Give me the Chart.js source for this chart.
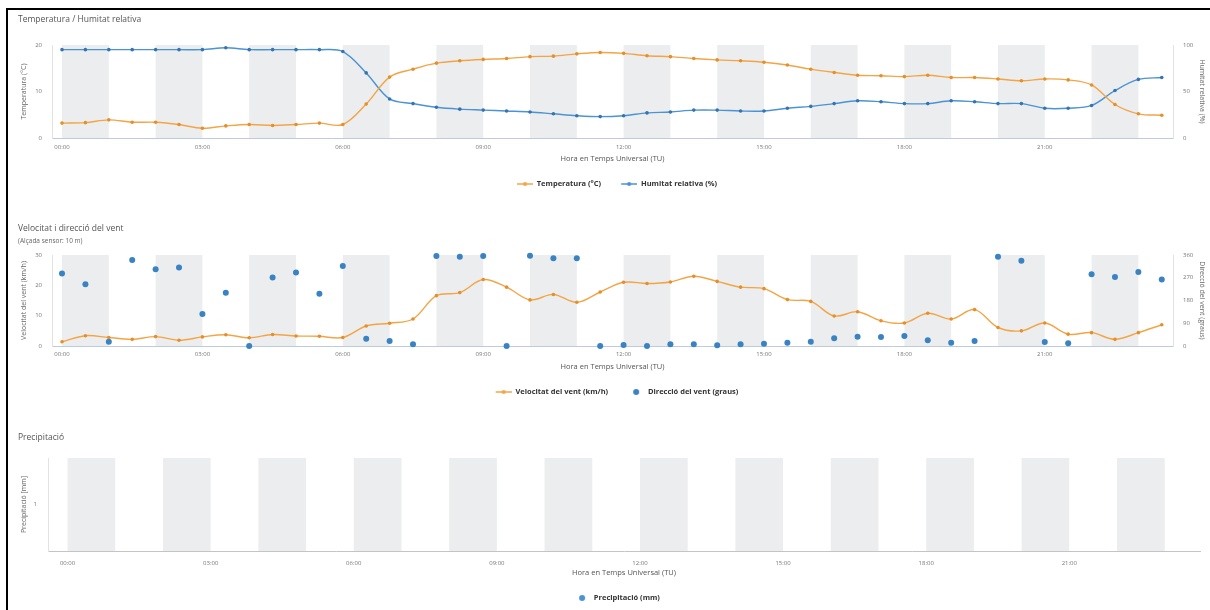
<!DOCTYPE html>
<html lang="ca">
<head>
<meta charset="utf-8">
<title>Dades meteorològiques</title>
<script src="https://cdn.jsdelivr.net/npm/chart.js@4.4.1/dist/chart.umd.min.js"></script>
<style>
  html, body { margin: 0; padding: 0; background: #fff; }
  body { position: relative; width: 1210px; height: 610px; overflow: hidden; font-family: "Open Sans", "Liberation Sans", sans-serif; }
  .frame { position: absolute; left: 6px; top: 8px; width: 1210px; height: 610px; border-top: 2px solid #000; border-left: 2px solid #000; }
  canvas { position: absolute; left: 0; }
  .title { position: absolute; left: 18px; font-size: 8.5px; color: #555; white-space: nowrap; }
  .subtitle { position: absolute; left: 18px; font-size: 6.5px; color: #666; white-space: nowrap; }
</style>
</head>
<body>
<div class="frame"></div>
<canvas id="tempChart" width="1210" height="200" style="top:0"></canvas>
<canvas id="windChart" width="1210" height="210" style="top:200px"></canvas>
<canvas id="rainChart" width="1210" height="202" style="top:410px"></canvas>
<div class="title" style="top:13px">Temperatura / Humitat relativa</div>
<div class="title" style="top:222px">Velocitat i direcció del vent</div>
<div class="subtitle" style="top:236px">(Alçada sensor: 10 m)</div>
<div class="title" style="top:431px">Precipitació</div>

<script>
/* ---------- half-hourly readings (hours UTC) ---------- */
const hours = [0, 0.5, 1, 1.5, 2, 2.5, 3, 3.5, 4, 4.5, 5, 5.5, 6, 6.5, 7, 7.5,
  8, 8.5, 9, 9.5, 10, 10.5, 11, 11.5, 12, 12.5, 13, 13.5, 14, 14.5, 15, 15.5,
  16, 16.5, 17, 17.5, 18, 18.5, 19, 19.5, 20, 20.5, 21, 21.5, 22, 22.5, 23, 23.5];

const temperature = [3.2, 3.3, 3.9, 3.4, 3.4, 2.9, 2.1, 2.6, 2.9, 2.7, 2.9, 3.2, 2.9,
  7.3, 13.1, 14.8, 16.1, 16.6, 16.9, 17.1, 17.5, 17.6, 18.1, 18.4, 18.2, 17.7, 17.5,
  17.1, 16.8, 16.6, 16.3, 15.7, 14.8, 14.1, 13.5, 13.4, 13.2, 13.5, 13.0, 13.0, 12.7,
  12.3, 12.7, 12.5, 11.4, 7.2, 5.2, 4.9];

const humidity = [95, 95, 95, 95, 95, 95, 95, 97, 95, 95, 95, 95, 93,
  70, 42, 37, 33, 31, 30, 29, 28, 26, 24, 23, 24, 27, 28, 30, 30, 29, 29, 32,
  34, 37, 40, 39, 37, 37, 40, 39, 37, 37, 32, 32, 35, 51, 63, 65];

const windSpeed = [1.4, 3.4, 2.8, 2.2, 3.1, 1.9, 3.0, 3.7, 2.7, 3.8, 3.3, 3.2, 2.8,
  6.6, 7.5, 8.9, 16.6, 17.6, 21.9, 19.4, 15.2, 17.0, 14.4, 17.8, 21.0, 20.6, 21.1,
  23.0, 21.3, 19.4, 18.9, 15.3, 14.7, 9.9, 11.3, 8.3, 7.6, 10.8, 8.9, 12.0, 6.1,
  5.0, 7.6, 3.9, 4.4, 2.2, 4.4, 7.0];

const windDirection = [287, 244, 17, 340, 304, 311, 127, 211, 0, 271, 291, 207, 316,
  29, 20, 7, 356, 353, 356, 0, 357, 347, 347, 0, 4, 0, 7, 7, 3, 7, 9, 13,
  17, 31, 37, 36, 40, 23, 13, 20, 353, 337, 16, 11, 284, 273, 293, 263];

const precipitation = [0, 0, 0, 0, 0, 0, 0, 0, 0, 0, 0, 0, 0, 0, 0, 0,
  0, 0, 0, 0, 0, 0, 0, 0, 0, 0, 0, 0, 0, 0, 0, 0,
  0, 0, 0, 0, 0, 0, 0, 0, 0, 0, 0, 0, 0, 0, 0, 0];

/* axis ticks and shaded hours */
const tickHours = [0, 3, 6, 9, 12, 15, 18, 21];
const tickLabels = ['00:00', '03:00', '06:00', '09:00', '12:00', '15:00', '18:00', '21:00'];
const bandStarts = [0, 2, 4, 6, 8, 10, 12, 14, 16, 18, 20, 22];

const tempTicks = [0, 10, 20];
const humidityTicks = [0, 50, 100];
const speedTicks = [0, 10, 20, 30];
const directionTicks = [0, 90, 180, 270, 360];
const rainTicks = [1];

/* ---------- styling ---------- */
const ORANGE = '#f3a546';
const ORANGE_DARK = '#e58f2a';
const BLUE = '#4a93d4';
const BLUE_DARK = '#3574b0';
const BAND = '#ecedee';
const AXIS_LINE = '#bccbdf';
const X_TITLE = 'Hora en Temps Universal (TU)';

Chart.defaults.font.family = '"Open Sans", "Liberation Sans", sans-serif';
Chart.defaults.animation = false;

function points(values) {
    return hours.map((h, i) => ({x: h, y: values[i]}));
}

// small canvas used as legend marker: line with dot, or dot only
function legendSymbol(color, withLine) {
    const c = document.createElement('canvas');
    c.width = 26;
    c.height = 8;
    const g = c.getContext('2d');
    g.fillStyle = color;
    g.strokeStyle = color;
    if (withLine) {
        g.lineWidth = 1.5;
        g.beginPath();
        g.moveTo(10, 4);
        g.lineTo(26, 4);
        g.stroke();
    }
    g.beginPath();
    g.arc(18, 4, withLine ? 2 : 3, 0, Math.PI * 2);
    g.fill();
    return c;
}

// grey background columns for alternating hours
const hourBands = {
    id: 'hourBands',
    beforeDraw(chart) {
        const {ctx, chartArea: {top, bottom}, scales: {x}} = chart;
        ctx.save();
        ctx.fillStyle = BAND;
        bandStarts.forEach(h => {
            const x0 = x.getPixelForValue(h);
            const x1 = x.getPixelForValue(h + 1);
            ctx.fillRect(x0, top, x1 - x0, bottom - top);
        });
        ctx.restore();
    }
};

function hourAxis(min, max, height, tickPad, titlePadBottom) {
    return {
        type: 'linear',
        min: min,
        max: max,
        offset: false,
        afterBuildTicks: s => { s.ticks = tickHours.map(v => ({value: v})); },
        afterFit: s => { s.height = height; },
        grid: {display: false, drawTicks: false, offset: false},
        border: {color: AXIS_LINE},
        ticks: {
            padding: tickPad, autoSkip: false, maxRotation: 0,
            font: {size: 6}, color: '#777',
            callback: (v, i) => tickLabels[i]
        },
        title: {
            display: true, text: X_TITLE, color: '#555',
            font: {size: 7.5}, padding: {top: 0, bottom: titlePadBottom}
        }
    };
}

function valueAxis(position, min, max, ticks, title, width, tickPad, titlePad) {
    return {
        position: position,
        min: min,
        max: max,
        afterBuildTicks: s => { s.ticks = ticks.map(v => ({value: v})); },
        afterFit: s => { s.width = width; },
        grid: {display: false, drawTicks: false},
        border: {color: '#e2e2e2'},
        ticks: {padding: tickPad, font: {size: 6}, color: '#777'},
        title: {
            display: true, text: title, color: '#666',
            font: {size: 7}, padding: {top: titlePad, bottom: 0}
        }
    };
}

function legendOptions() {
    return {
        position: 'bottom',
        labels: {
            usePointStyle: true,
            pointStyleWidth: 26,
            padding: 10,
            color: '#333',
            font: {size: 7.5, weight: 'bold'},
            generateLabels(chart) {
                const items = Chart.defaults.plugins.legend.labels.generateLabels(chart);
                items.forEach(item => {
                    item.pointStyle = chart.data.datasets[item.datasetIndex].legendSymbol;
                });
                return items;
            }
        }
    };
}

function lineSeries(label, values, axis, color, markerColor) {
    return {
        type: 'line',
        label: label,
        data: points(values),
        yAxisID: axis,
        borderColor: color,
        backgroundColor: markerColor,
        borderWidth: 1.4,
        pointRadius: 1.8,
        pointBorderWidth: 0,
        tension: 0.35,
        legendSymbol: legendSymbol(color, true)
    };
}

const baseOptions = {
    responsive: false,
    devicePixelRatio: 1,
    animation: false,
    events: [],
    plugins: {tooltip: {enabled: false}}
};

/* ---------- Temperatura / Humitat relativa ---------- */
new Chart(document.getElementById('tempChart'), {
    type: 'line',
    data: {
        datasets: [
            lineSeries('Temperatura (°C)', temperature, 'y', ORANGE, ORANGE_DARK),
            lineSeries('Humitat relativa (%)', humidity, 'y1', BLUE, BLUE_DARK)
        ]
    },
    options: {
        ...baseOptions,
        layout: {padding: {top: 45, left: 14, right: 0, bottom: 2.25}},
        plugins: {...baseOptions.plugins, legend: legendOptions()},
        scales: {
            x: hourAxis(-0.214, 23.74, 32.25, 6, 7.25),
            y: valueAxis('left', 0, 20, tempTicks, 'Temperatura (°C)', 38, 10, 5.8),
            y1: valueAxis('right', 0, 100, humidityTicks, 'Humitat relativa (%)', 37, 10, 3.8)
        }
    },
    plugins: [hourBands]
});

/* ---------- Velocitat i direcció del vent ---------- */
new Chart(document.getElementById('windChart'), {
    type: 'line',
    data: {
        datasets: [
            lineSeries('Velocitat del vent (km/h)', windSpeed, 'y', ORANGE, ORANGE_DARK),
            {
                type: 'line',
                label: 'Direcció del vent (graus)',
                data: points(windDirection),
                yAxisID: 'y1',
                showLine: false,
                borderColor: '#3a83c3',
                backgroundColor: '#3a83c3',
                pointRadius: 3,
                pointBorderWidth: 0,
                clip: false,
                legendSymbol: legendSymbol('#3a83c3', false)
            }
        ]
    },
    options: {
        ...baseOptions,
        layout: {padding: {top: 55, left: 14, right: 0, bottom: 4.25}},
        plugins: {...baseOptions.plugins, legend: legendOptions()},
        scales: {
            x: hourAxis(-0.214, 23.74, 32.25, 5, 6.75),
            y: valueAxis('left', 0, 30, speedTicks, 'Velocitat del vent (km/h)', 38, 10, 5.8),
            y1: valueAxis('right', 0, 360, directionTicks, 'Direcció del vent (graus)', 37, 10, 3.8)
        }
    },
    plugins: [hourBands]
});

/* ---------- Precipitació ---------- */
new Chart(document.getElementById('rainChart'), {
    type: 'bar',
    data: {
        datasets: [{
            label: 'Precipitació (mm)',
            data: points(precipitation),
            backgroundColor: BLUE,
            borderWidth: 0,
            legendSymbol: legendSymbol(BLUE, false)
        }]
    },
    options: {
        ...baseOptions,
        layout: {padding: {top: 48, left: 24, right: 10, bottom: 0.25}},
        plugins: {...baseOptions.plugins, legend: legendOptions()},
        scales: {
            x: {...hourAxis(-0.41, 23.74, 33.25, 8.4, 6.75), border: {color: '#c4c4c4'}},
            y: valueAxis('left', 0, 2, rainTicks, 'Precipitació [mm]', 24, 11, -4)
        }
    },
    plugins: [hourBands]
});
</script>
</body>
</html>
